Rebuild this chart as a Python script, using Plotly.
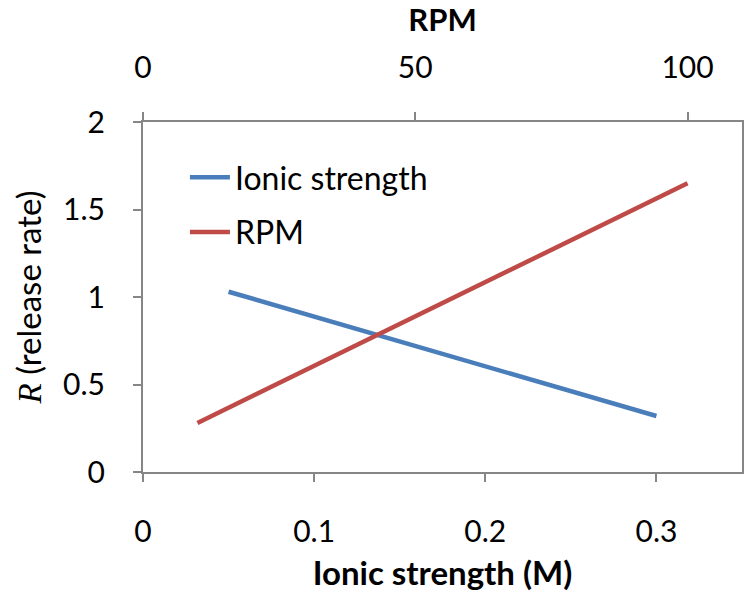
import plotly.graph_objects as go

# Release rate vs ionic strength (bottom axis) and vs stirring speed (top axis)
ionic_strength = [0.05, 0.30]
ionic_rate = [1.03, 0.32]

rpm = [10, 100]
rpm_rate = [0.28, 1.65]

x_ticks = [0, 0.1, 0.2, 0.3]
x_tick_text = ["0", "0.1", "0.2", "0.3"]
rpm_ticks = [0, 50, 100]
y_ticks = [0, 0.5, 1, 1.5, 2]
y_tick_text = ["0", "0.5", "1", "1.5", "2"]

BLUE = "#4A7EBB"
RED = "#BE4B48"
AXIS = "#868686"
FONT = "Lato, Open Sans, sans-serif"

fig = go.Figure()
fig.add_trace(go.Scatter(
    x=ionic_strength, y=ionic_rate, mode="lines", name="Ionic strength",
    line=dict(color=BLUE, width=4.5), xaxis="x", yaxis="y",
    legendgroup="a",
))
fig.add_trace(go.Scatter(
    x=rpm, y=rpm_rate, mode="lines", name="RPM",
    line=dict(color=RED, width=4.5), xaxis="x2", yaxis="y",
    legendgroup="b",
))

fig.update_layout(
    width=746, height=592,
    margin=dict(l=143, r=2, t=122, b=120),
    paper_bgcolor="white", plot_bgcolor="white",
    font=dict(family=FONT, size=30, color="black"),
    showlegend=True,
    legend=dict(
        x=0.07, y=0.92, xanchor="left", yanchor="top",
        bgcolor="rgba(0,0,0,0)", font=dict(size=32),
        traceorder="grouped", tracegroupgap=10,
        itemwidth=40,
    ),
    xaxis=dict(
        range=[0, 0.35], tickvals=x_ticks, ticktext=x_tick_text,
        showgrid=False, zeroline=False, showline=True,
        linecolor=AXIS, linewidth=2, ticks="outside", ticklen=8,
        tickcolor=AXIS, tickwidth=1.5, ticklabelstandoff=24,
        tickfont=dict(size=30),
        title=dict(text="<b>Ionic strength (M)</b>", font=dict(size=33),
                   standoff=17),
    ),
    xaxis2=dict(
        overlaying="x", side="top", range=[0, 110], tickvals=rpm_ticks,
        showgrid=False, zeroline=False, showline=True,
        linecolor=AXIS, linewidth=2, ticks="outside", ticklen=8,
        tickcolor=AXIS, tickwidth=1.5, ticklabelstandoff=22,
        tickfont=dict(size=30),
        title=dict(text="<b>RPM</b>", font=dict(size=31), standoff=8),
    ),
    yaxis=dict(
        range=[0, 2], tickvals=y_ticks, ticktext=y_tick_text,
        showgrid=False, zeroline=False, showline=True, mirror=True,
        linecolor=AXIS, linewidth=2, ticks="outside", ticklen=8,
        tickcolor=AXIS, tickwidth=1.5, ticklabelstandoff=22,
        tickfont=dict(size=30),
        title=dict(
            text="<span style='font-family:Liberation Serif, DejaVu Serif, serif'><i>R</i></span> (release rate)",
            font=dict(size=33), standoff=12,
        ),
    ),
)

fig.write_html("out.html")
